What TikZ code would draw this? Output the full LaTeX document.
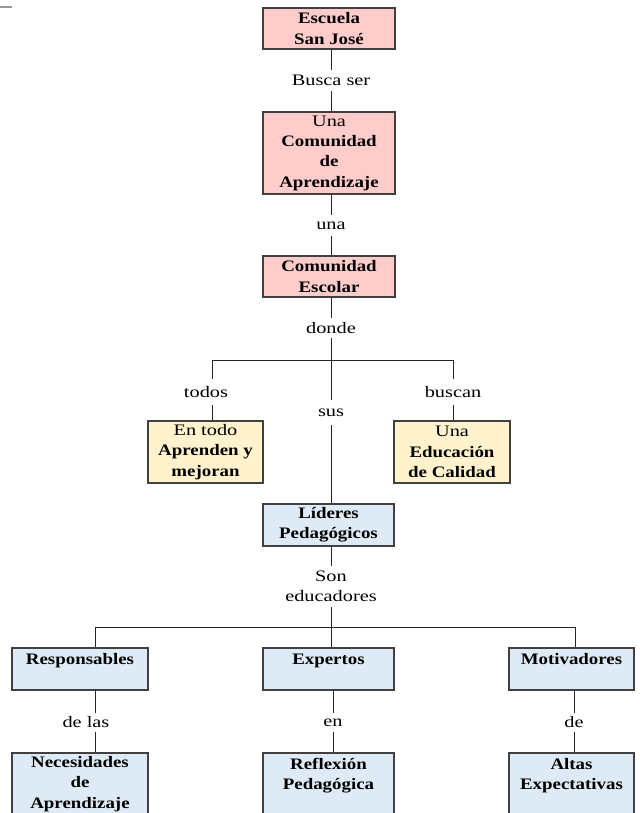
\documentclass[tikz,border=0pt]{standalone}
\usepackage{fontspec}
\setmainfont{Liberation Serif}[FakeStretch=1.27, BoldFeatures={FakeStretch=1.18}]
\usepackage{tikz}
\usetikzlibrary{positioning, fit, shapes}
\definecolor{rosa}{HTML}{FFCCCC}
\definecolor{crema}{HTML}{FFF2CC}
\definecolor{celeste}{HTML}{DEEBF7}
\tikzstyle{caja}=[rectangle, draw=black!75, line width=1pt, inner sep=0pt, align=center, font=\fontsize{12}{15.25}\selectfont]
\tikzstyle{etiq}=[inner sep=0pt, align=center, font=\fontsize{12}{15.25}\selectfont]
\tikzstyle{lien}=[line width=0.7pt, black!85]

\begin{document}
\begin{tikzpicture}[x=0.75pt, y=-0.75pt]
        \useasboundingbox (0,0) rectangle (639,813);
        \clip (0,0) rectangle (639,813);
        \draw[black!40, line width=0.8pt] (0,7) -- (12,7);

        % Les boîtes
        \node[caja, fill=rosa, minimum width=99pt, minimum height=30.75pt] (esc) at (329,28.5) {\textbf{Escuela}\\\textbf{San José}};
        \node[caja, fill=rosa, minimum width=99pt, minimum height=61.5pt] (cap) at (329,153) {Una\\\textbf{Comunidad}\\\textbf{de}\\\textbf{Aprendizaje}};
        \node[caja, fill=rosa, minimum width=99pt, minimum height=30.75pt] (esco) at (329,276.5) {\textbf{Comunidad}\\\textbf{Escolar}};
        \node[caja, fill=crema, minimum width=86.25pt, minimum height=46.5pt] (todo) at (205.5,452) {En todo\\\textbf{Aprenden y}\\\textbf{mejoran}};
        \node[caja, fill=crema, minimum width=87pt, minimum height=46.5pt] (cal) at (452,452) {Una\\\textbf{Educación}\\\textbf{de Calidad}};
        \node[caja, fill=celeste, minimum width=98.25pt, minimum height=31.5pt] (lid) at (328.5,525) {\textbf{Líderes}\\\textbf{Pedagógicos}};
        \node[caja, fill=celeste, minimum width=102pt, minimum height=31.5pt] (resp) at (80,669) {\textbf{Responsables}\\~};
        \node[caja, fill=celeste, minimum width=98.25pt, minimum height=31.5pt] (expe) at (328.5,669) {\textbf{Expertos}\\~};
        \node[caja, fill=celeste, minimum width=93.75pt, minimum height=31.5pt] (moti) at (571.5,669) {\textbf{Motivadores}\\~};
        \node[caja, fill=celeste, minimum width=102pt, minimum height=46.5pt] (nece) at (80,784) {\textbf{Necesidades}\\\textbf{de}\\\textbf{Aprendizaje}};
        \node[caja, fill=celeste, minimum width=98.25pt, minimum height=46.5pt] (refl) at (328.5,784) {\textbf{Reflexión}\\\textbf{Pedagógica}\\~};
        \node[caja, fill=celeste, minimum width=93.75pt, minimum height=46.5pt] (alta) at (571.5,784) {\textbf{Altas}\\\textbf{Expectativas}\\~};

        % Les étiquettes
        \node[etiq, minimum height=15.75pt] (busca) at (331,80.5) {Busca ser};
        \node[etiq, minimum height=15.75pt] (una) at (331,225.5) {una};
        \node[etiq, minimum height=15pt] (donde) at (331,328) {donde};
        \node[etiq, minimum height=19.5pt] (todos) at (206,392) {todos};
        \node[etiq, minimum height=18.75pt] (sus) at (331,412.5) {sus};
        \node[etiq, minimum height=19.5pt] (buscan) at (453,392) {buscan};
        \node[etiq, minimum height=30.75pt] (son) at (331,586.5) {Son\\educadores};
        \node[etiq, minimum height=14.25pt] (delas) at (86,722.5) {de las};
        \node[etiq, minimum height=14.25pt] (en) at (333,722.5) {en};
        \node[etiq, minimum height=14.25pt] (de) at (574,722.5) {de};

        \coordinate (h1g) at (212,360);
        \coordinate (h1d) at (453,360);
        \coordinate (h2g) at (95,627);
        \coordinate (h2d) at (575,627);

        % Les liens
        \draw[lien] (busca |- esc.south) -- (busca) -- (busca |- cap.north);
        \draw[lien] (una |- cap.south) -- (una) -- (una |- esco.north);
        \draw[lien] (donde |- esco.south) -- (donde);
        \draw[lien] (donde) -- (sus);
        \draw[lien] (h1g) -- (h1d);
        \draw[lien] (h1g) -- (h1g |- todos.north);
        \draw[lien] (h1g |- todos.south) -- (h1g |- todo.north);
        \draw[lien] (h1d) -- (buscan) -- (buscan |- cal.north);
        \draw[lien] (sus) -- (sus |- lid.north);
        \draw[lien] (son |- lid.south) -- (son);
        \draw[lien] (son) -- (son |- expe.north);
        \draw[lien] (h2g) -- (h2d);
        \draw[lien] (h2g) -- (h2g |- resp.north);
        \draw[lien] (h2d) -- (h2d |- moti.north);
        \draw[lien] (h2g |- resp.south) -- (h2g |- delas.north);
        \draw[lien] (h2g |- delas.south) -- (h2g |- nece.north);
        \draw[lien] (en |- expe.south) -- (en) -- (en |- refl.north);
        \draw[lien] (de |- moti.south) -- (de) -- (de |- alta.north);
    \end{tikzpicture}
\end{document}
